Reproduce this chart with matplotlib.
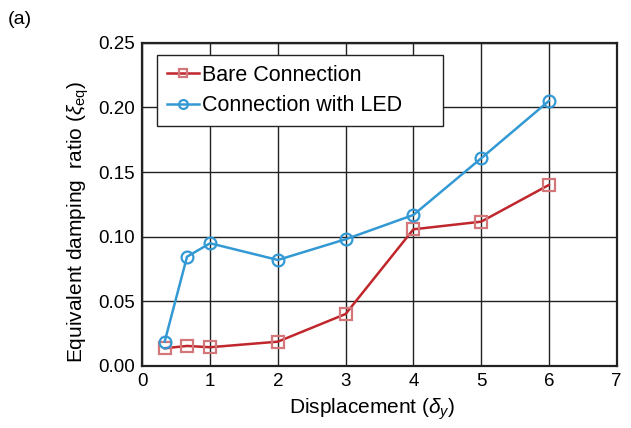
import matplotlib
matplotlib.use("Agg")
import matplotlib.pyplot as plt

plt.rcParams['font.family'] = ['Liberation Sans', 'DejaVu Sans']
plt.rcParams['mathtext.fontset'] = 'custom'
plt.rcParams['mathtext.rm'] = 'Liberation Sans'
plt.rcParams['mathtext.it'] = 'Liberation Sans:italic'

x_bare = [0.33, 0.66, 1.0, 2.0, 3.0, 4.0, 5.0, 6.0]
y_bare = [0.0137, 0.0155, 0.0145, 0.0188, 0.0402, 0.1057, 0.1116, 0.140]
x_led = [0.33, 0.66, 1.0, 2.0, 3.0, 4.0, 5.0, 6.0]
y_led = [0.0188, 0.0845, 0.0949, 0.082, 0.098, 0.1168, 0.1606, 0.205]
xticks = [0, 1, 2, 3, 4, 5, 6, 7]
yticks = [0.00, 0.05, 0.10, 0.15, 0.20, 0.25]

fig = plt.figure(figsize=(6.31, 4.28), dpi=100)
ax = fig.add_axes([0.2255, 0.1449, 0.7518, 0.7553])

ax.plot(x_bare, y_bare, color='#c0272d', lw=1.8, marker='s', ms=8,
        mfc='none', mec='#d4777a', mew=1.6, label='Bare Connection', zorder=3)
ax.plot(x_led, y_led, color='#3399d4', lw=1.8, marker='o', ms=8.5,
        mfc='none', mec='#3399d4', mew=1.6, label='Connection with LED', zorder=3)

ax.set_xlim(0, 7)
ax.set_ylim(0, 0.25)
ax.set_xticks(xticks)
ax.set_yticks(yticks)
ax.set_yticklabels([f'{v:.2f}' for v in yticks])
ax.tick_params(labelsize=13.5, length=0, pad=5)
ax.grid(True, color='#222222', lw=1.0)
ax.set_axisbelow(True)
for s in ax.spines.values():
    s.set_linewidth(1.6)
    s.set_color('#222222')

ax.set_xlabel(r'Displacement ($\delta_{\mathit{y}}$)', fontsize=15, labelpad=3)
ax.xaxis.set_label_coords(0.485, -0.095)
ax.set_ylabel(r'Equivalent damping  ratio ($\xi_{\mathrm{eq}}$)', fontsize=15)
ax.yaxis.set_label_coords(-0.108, 0.445)

leg = ax.legend(loc='upper left', bbox_to_anchor=(0.0316, 0.5, 0.602, 0.462),
                mode='expand', fontsize=15.5,
                fancybox=False, edgecolor='#222222', framealpha=1, markerscale=0.75,
                handlelength=1.5, handletextpad=0.15, borderpad=0.45, labelspacing=0.45,
                borderaxespad=0)
leg.get_frame().set_linewidth(1.0)

fig.text(0.013, 0.943, '(a)', fontsize=14)

fig.savefig('out.png', dpi=100)
